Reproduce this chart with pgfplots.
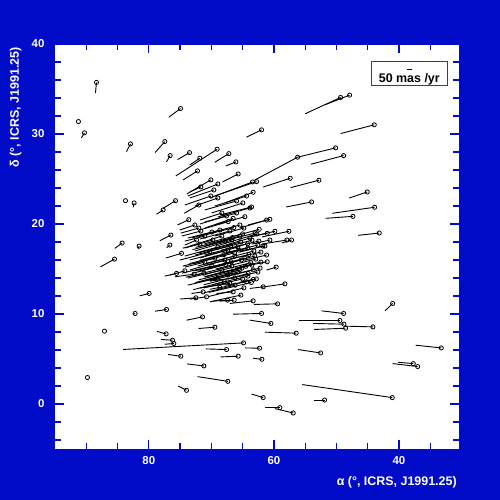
\documentclass[border=0pt]{standalone}
\usepackage{pgfplots}
\pgfplotsset{compat=1.18}
\usepackage{pgfplotstable}
\usepackage{fontspec}
\setmainfont{Liberation Sans}
\definecolor{bgblue}{RGB}{0,12,200}
\pgfplotstableread{
x y u v
88.37 35.73 0.16 -1.18
91.25 31.38 0 0
90.29 30.13 0.48 -0.56
74.93 32.83 1.87 -0.96
82.93 28.90 0.64 -0.86
77.44 29.16 1.55 -1.22
76.59 27.60 0.58 -0.70
73.49 27.93 1.92 -0.78
69.07 28.31 6.61 -2.97
71.84 27.31 1.60 -0.75
67.20 27.82 2.24 -0.96
66.08 26.90 1.60 -0.45
72.21 25.90 2.30 -1.00
65.71 25.56 2.50 -0.89
70.08 24.90 3.84 -1.56
68.96 24.45 4.80 -1.34
71.68 24.12 1.76 -0.56
83.73 22.59 0 0
82.35 22.34 0.16 -0.48
75.73 22.59 1.98 -0.85
77.71 21.56 1.06 -0.48
72.00 22.11 2.35 -0.92
73.60 20.48 1.81 -0.59
72.64 19.89 2.40 -0.56
72.00 19.55 2.88 -0.56
71.68 19.22 3.04 -0.56
76.48 18.77 1.76 -0.63
72.37 18.22 1.87 -0.56
84.27 17.88 1.17 -0.59
81.55 17.55 0.16 -0.30
76.64 17.66 0.50 -0.30
47.89 34.32 3.95 -1.08
49.33 34.06 5.66 -1.81
43.95 31.02 5.38 -0.97
61.97 30.46 2.40 -0.81
50.13 28.46 6.08 -1.04
56.21 27.42 6.83 -2.53
48.85 27.60 5.23 -0.96
57.39 25.08 4.32 -0.97
52.80 24.86 4.53 -0.82
45.07 23.56 2.88 -0.67
53.97 22.45 4.06 -0.56
43.89 21.86 6.78 -0.67
47.36 20.85 4.37 -0.22
43.15 19.00 3.36 -0.26
62.77 24.71 6.67 -1.59
63.41 24.67 6.83 -1.78
63.31 23.53 4.53 -1.19
63.57 21.89 5.07 -0.89
60.64 20.52 3.52 -0.63
61.17 20.44 4.27 -0.89
62.35 19.41 3.89 -0.75
59.84 19.19 4.00 -0.63
57.60 19.19 4.32 -0.63
57.92 18.22 4.00 -0.45
61.44 17.55 4.00 -0.56
57.17 18.22 1.55 -0.33
59.63 15.21 1.54 -0.33
58.24 13.35 3.68 -0.37
61.71 13.02 2.13 -0.18
63.31 13.84 2.13 -0.30
59.41 11.13 3.79 -0.07
63.31 11.46 3.73 -0.29
61.97 10.06 4.54 -0.08
60.48 8.95 3.36 0.37
56.43 7.87 5.00 0.11
48.85 10.06 3.52 0.29
49.44 9.28 6.51 0
48.80 8.87 4.91 0.08
44.16 8.57 4.48 0.08
48.53 8.42 5.02 -0.14
41.01 11.17 1.23 -0.82
33.23 6.23 4.10 0.30
37.71 4.49 2.40 0.14
37.01 4.16 4.00 0.33
62.29 6.20 2.35 0.03
61.92 4.97 1.39 0.11
52.53 5.67 3.58 0.38
41.07 0.71 14.40 1.45
61.71 0.71 1.86 0.40
51.89 0.44 1.66 0
59.04 -0.40 2.40 0
56.91 -1.00 2.93 0.49
85.49 16.10 2.24 -0.86
79.95 12.29 1.49 -0.27
82.19 10.06 0.30 -0.10
87.09 8.09 0 0
89.81 2.94 0 0
77.17 10.50 1.82 -0.19
71.41 9.68 2.56 -0.37
69.44 8.53 2.61 -0.14
77.23 7.79 1.44 0.27
76.21 7.09 1.87 0.08
76.00 6.72 1.44 -0.08
64.85 6.79 19.26 -0.73
67.57 6.05 3.31 0.07
65.71 5.31 2.82 -0.08
74.88 5.31 2.03 0.19
71.20 4.23 2.67 0.22
67.36 2.52 4.85 0.52
73.97 1.52 1.34 0.48
74.77 16.74 2.51 -0.52
75.57 14.51 1.87 -0.30
74.24 14.80 2.40 -0.48
72.75 14.43 3.09 -0.30
71.31 12.46 1.86 -0.18
70.77 11.91 2.67 -0.26
72.48 11.80 2.56 -0.14
68.64 12.96 1.60 -0.22
66.51 12.46 2.66 -0.18
65.28 12.10 4.96 -0.75
67.41 11.54 2.35 -0.11
66.35 11.54 2.29 -0.11
64.37 13.58 3.47 -0.37
66.24 14.02 4.00 -0.37
67.04 13.40 4.80 -0.52
64.37 23.11 5.07 -1.11
64.96 22.34 4.96 -1.11
65.97 22.56 5.07 -1.00
63.84 21.78 5.12 -1.00
65.97 21.22 5.07 -1.00
67.57 20.89 4.27 -0.89
64.64 20.81 4.80 -0.92
66.51 20.63 4.53 -1.08
67.31 20.26 4.53 -0.92
65.44 19.89 4.80 -0.89
64.80 19.55 4.64 -0.89
68.32 21.22 3.52 -0.78
69.60 23.78 3.84 -0.89
70.08 23.11 4.16 -1.00
68.96 22.89 3.68 -0.89
62.72 18.89 5.92 -1.22
63.84 18.44 6.08 -1.22
65.44 18.66 5.60 -1.11
66.72 18.22 5.92 -1.22
68.32 18.66 5.12 -1.11
69.76 18.22 4.48 -0.89
62.56 17.66 5.28 -0.89
64.16 17.33 6.08 -1.11
65.76 17.44 6.08 -1.22
67.36 17.11 6.08 -1.11
68.96 17.44 5.28 -1.00
70.24 16.88 4.80 -0.89
63.04 16.44 5.60 -1.00
64.64 16.21 5.92 -1.11
66.24 16.44 5.92 -1.11
67.84 16.00 5.60 -1.11
69.44 16.21 5.12 -0.89
63.52 15.43 5.92 -1.00
65.12 15.10 5.92 -1.00
66.72 15.32 5.92 -1.00
68.32 14.88 5.44 -0.89
69.92 15.32 4.80 -0.78
62.56 14.66 4.80 -0.78
64.16 14.21 5.28 -0.89
65.76 14.66 4.80 -0.89
67.36 14.32 5.28 -0.89
68.96 13.99 4.80 -0.78
62.08 16.88 4.96 -0.78
62.08 15.77 4.16 -0.67
67.04 19.22 4.80 -0.89
68.64 19.33 4.48 -0.89
69.92 19.11 3.84 -0.67
71.04 18.66 3.20 -0.56
71.84 17.77 2.72 -0.45
71.04 15.77 3.20 -0.56
71.20 14.54 2.88 -0.45
61.07 18.96 3.09 -0.41
60.64 18.22 2.88 -0.45
61.76 17.55 3.68 -0.67
61.17 16.55 3.47 -0.56
61.07 15.80 3.57 -0.48
63.0 19.0 6.8 -1.2
63.5 18.2 7.2 -1.3
64.2 17.8 6.9 -1.25
63.2 17.0 7.5 -1.35
64.0 16.6 7.0 -1.2
62.9 16.1 6.4 -1.1
63.7 15.7 7.3 -1.3
64.5 15.3 6.6 -1.15
63.3 14.9 6.9 -1.2
64.1 14.5 7.1 -1.25
62.8 13.9 6.2 -1.05
63.6 13.5 6.8 -1.1
65.0 18.9 6.1 -1.1
65.3 18.0 6.7 -1.2
65.6 17.1 6.3 -1.15
65.2 16.0 6.9 -1.25
65.5 14.9 6.5 -1.1
65.0 13.9 6.2 -1.0
66.4 19.6 5.6 -1.0
66.6 18.5 5.9 -1.1
66.9 17.6 5.7 -1.05
66.3 16.8 6.4 -1.2
66.8 15.8 5.8 -1.0
66.5 14.6 6.0 -1.1
67.8 18.1 5.2 -0.95
68.0 16.6 5.5 -1.0
67.7 15.5 5.4 -1.0
67.9 13.6 5.0 -0.9
62.4 18.1 6.0 -1.0
62.2 15.1 5.5 -0.9
64.8 12.9 5.6 -0.95
66.2 13.2 5.0 -0.85
}\pm
\begin{document}
\begin{tikzpicture}
\fill[bgblue] (-55bp,-51bp) rectangle (445bp,449bp);
\begin{axis}[
  scale only axis, width=404bp, height=405bp,
  x dir=reverse, xmin=30.4, xmax=95, ymin=-5, ymax=40,
  xtick={40,60,80}, minor xtick={35,45,50,55,65,70,75,85,90},
  ytick={0,10,20,30,40}, minor ytick={-4,-2,2,4,6,8,12,14,16,18,22,24,26,28,32,34,36,38},
  tick align=inside, tick pos=both,
  major tick length=9bp, minor tick length=6bp,
  every tick/.style={bgblue, line width=1.3pt},
  axis line style={bgblue, line width=1pt},
  axis background/.style={fill=white},
  /pgf/number format/assume math mode=true,
  tick label style={text=white, font=\bfseries\fontsize{11.5}{13}\selectfont},
  xticklabel style={yshift=-4bp},
  yticklabel style={xshift=-7bp},
  xlabel={\bfseries α (°, ICRS, J1991.25)},
  ylabel={\bfseries δ (°, ICRS, J1991.25)},
  label style={text=white, font=\fontsize{12.5}{14}\selectfont},
  xlabel style={at={(rel axis cs:1.003,-0.081)}, anchor=east},
  ylabel style={at={(rel axis cs:-0.074,1)}, anchor=south east, rotate=0},
  clip=false,
]
\addplot[black, line width=0.9pt, quiver={u=\thisrow{u}, v=\thisrow{v}}] table[x=x, y=y] {\pm};
\addplot[only marks, mark=o, mark size=2.1pt, mark options={black, line width=0.8pt}] table[x=x, y=y] {\pm};
\node[draw=black!75, line width=0.8pt, fill=white, minimum width=76.7bp, minimum height=24bp, inner sep=0pt] (lg) at (rel axis cs:0.877,0.9267) {};
\node[font=\bfseries\fontsize{12.5}{14}\selectfont, anchor=base] at ([yshift=-8.5bp]lg.center) {50 mas /yr};
\draw[black, line width=0.8pt] ([xshift=-2.5bp, yshift=4.7bp]lg.center) -- ([xshift=2.5bp, yshift=4.7bp]lg.center);
\end{axis}
\end{tikzpicture}
\end{document}
